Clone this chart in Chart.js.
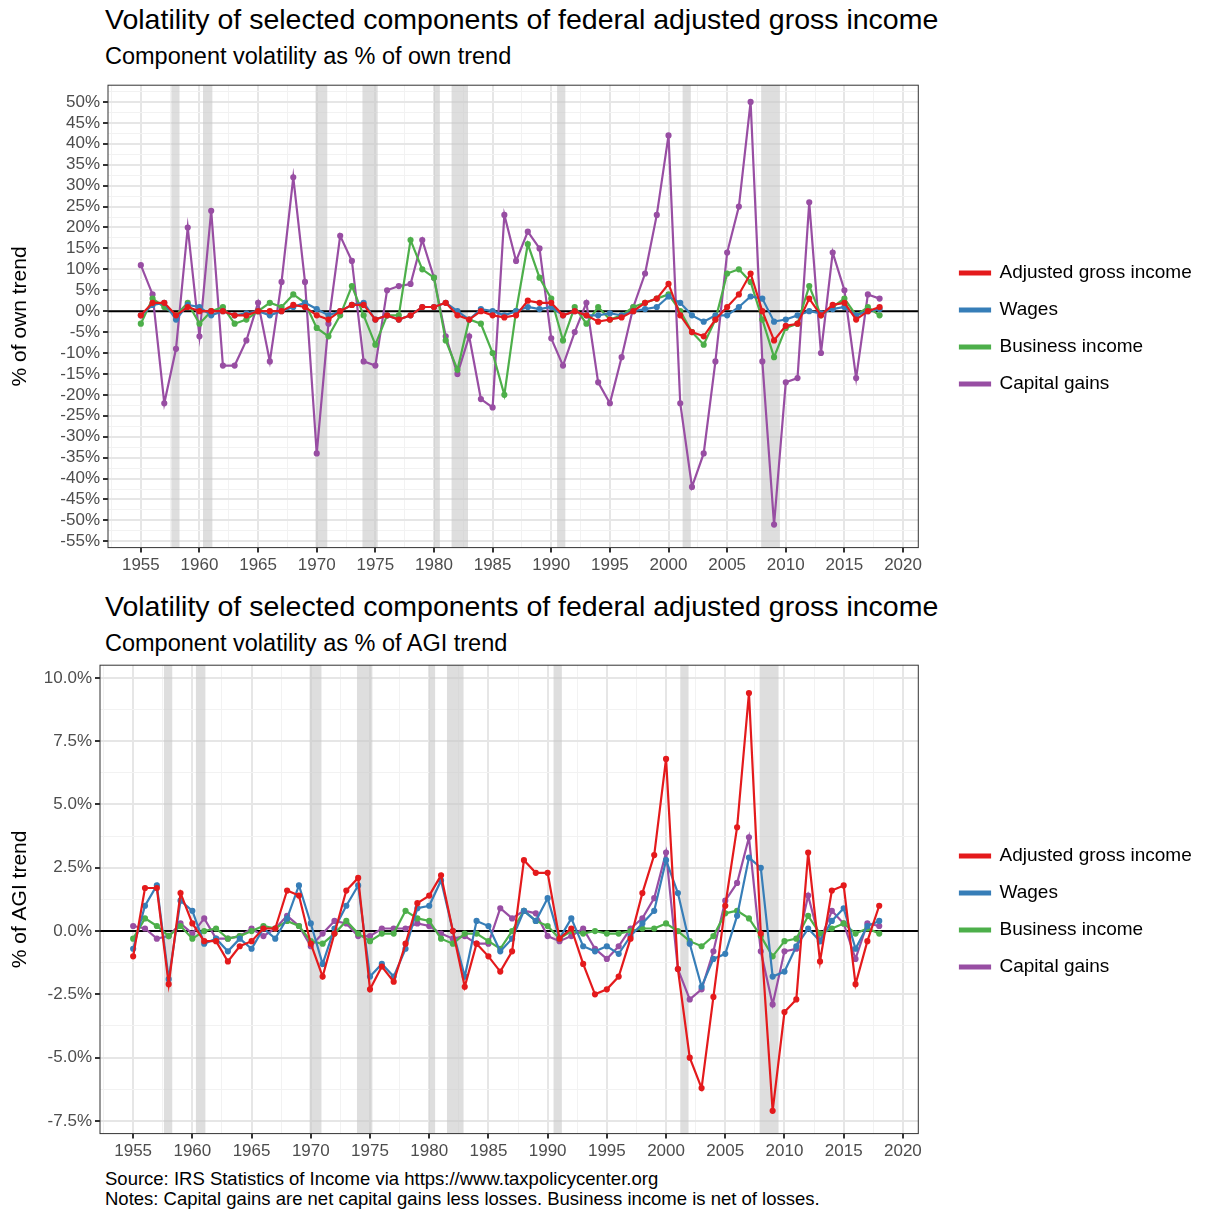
<!DOCTYPE html>
<html>
<head>
<meta charset="utf-8">
<script src="https://cdn.jsdelivr.net/npm/chart.js@4.4.1/dist/chart.umd.min.js"></script>
<style>
  body { margin: 0; background: #fff; font-family: "Liberation Sans", Arial, sans-serif; width: 1208px; height: 1211px; position: relative; overflow: hidden; }
  .t { position: absolute; left: 105px; color: #000; white-space: nowrap; }
  .title { font-size: 28.5px; }
  .sub { font-size: 23.5px; }
  .note { font-size: 18.5px; left: 105px; }
  .box { position: absolute; left: 0; width: 1208px; }
</style>
</head>
<body>
<div class="t title" style="top:3px">Volatility of selected components of federal adjusted gross income</div>
<div class="t sub" style="top:43px">Component volatility as % of own trend</div>
<div class="box" style="top:72px; height:507px"><canvas id="ownChart"></canvas></div>
<div class="t title" style="top:590px">Volatility of selected components of federal adjusted gross income</div>
<div class="t sub" style="top:630px">Component volatility as % of AGI trend</div>
<div class="box" style="top:652px; height:513px"><canvas id="agiChart"></canvas></div>
<div class="t note" style="top:1168px">Source: IRS Statistics of Income via https://www.taxpolicycenter.org</div>
<div class="t note" style="top:1188px">Notes: Capital gains are net capital gains less losses. Business income is net of losses.</div>
<script>
'use strict';

let years = [];
for (let y = 1955; y <= 2018; y++) years.push(y);

let seriesNames = ['Adjusted gross income', 'Wages', 'Business income', 'Capital gains'];
let seriesColors = ['#e41a1c', '#377eb8', '#4daf4a', '#984ea3'];

// % of own trend
let agiOwn = [-1, 2, 2, -1, 1, 0, 0, 0, -1, -1, 0, 0, 0, 1.5, 1, -1, -2, 0, 1.5, 1.5, -2, -1, -2, -1, 1, 1, 2, -1, -2, 0, -1, -1.5, -1, 2.5, 2, 2, -1, 0, -1, -2.5, -2, -1.5, 0, 2, 3, 6.5, -1, -5, -6, -2, 1, 4, 9, 0, -7, -3.5, -3, 3, -1, 1.5, 2, -2, 0, 1];
let wagesOwn = [-1, 1.5, 2, -2, 1.5, 1, -1, 0, -1, -0.5, 0, -1, 0, 1, 2, 0.5, -1, 0, 1.5, 2, -2, -1, -2, -1, 1, 1, 2, 0, -2, 0.5, 0, -1, 0, 1, 0.5, 1, -1, 0, -1, -1, -0.5, -1, 0, 0.5, 1, 3.5, 2, -1, -2.5, -1, -1, 1, 3.5, 3, -2.5, -2, -1, 0, -0.5, 0.5, 1, -1, 0, 0.5];
let businessOwn = [-3, 3, 1, -1, 2, -3, 0, 1, -3, -2, 0, 2, 1, 4, 2, -4, -6, -1, 6, -1, -8, -1, -1, 17, 10, 8, -7, -14, -2, -3, -10, -20, 0, 16, 8, 3, -7, 1, -3, 1, -2, -1, 1, 2, 3, 4, 0, -5, -8, -2, 9, 10, 7, -2, -11, -4, -3, 6, -1, 1, 3, -1, 1, -1];
let capGainsOwn = [11, 4, -22, -9, 20, -6, 24, -13, -13, -7, 2, -12, 7, 32, 7, -34, -3, 18, 12, -12, -13, 5, 6, 6.5, 17, 8, -6, -15, -6, -21, -23, 23, 12, 19, 15, -6.5, -13, -5, 2, -17, -22, -11, 1, 9, 23, 42, -22, -42, -34, -12, 14, 25, 50, -12, -51, -17, -16, 26, -10, 14, 5, -16, 4, 3];

// % of AGI trend
let agiAgi = [-1, 1.7, 1.7, -2.1, 1.5, 0.3, -0.4, -0.4, -1.2, -0.6, -0.4, 0.1, 0.1, 1.6, 1.4, -0.5, -1.8, -0.1, 1.6, 2.1, -2.3, -1.4, -2.0, -0.5, 1.1, 1.4, 2.2, 0, -2.2, -0.5, -1.0, -1.6, -0.8, 2.8, 2.3, 2.3, -0.3, 0.1, -1.3, -2.5, -2.3, -1.8, -0.3, 1.5, 3.0, 6.8, -1.5, -5.0, -6.2, -2.6, 1.0, 4.1, 9.4, -0.1, -7.1, -3.2, -2.7, 3.1, -1.2, 1.6, 1.8, -2.1, -0.4, 1.0];
let wagesAgi = [-0.7, 1.0, 1.8, -1.9, 1.2, 0.8, -0.5, -0.3, -0.8, -0.3, -0.7, 0.1, -0.3, 0.5, 1.8, 0.3, -1.3, 0.1, 1.0, 1.8, -1.8, -1.3, -1.8, -0.7, 0.9, 1.0, 2.0, 0, -1.8, 0.4, 0.2, -0.8, -0.3, 0.8, 0.4, 1.3, -0.3, 0.5, -0.6, -0.8, -0.6, -0.9, -0.2, 0.3, 0.8, 2.8, 1.5, -0.5, -2.2, -1.1, -0.9, 0.6, 2.9, 2.5, -1.8, -1.6, -0.6, 0.1, -0.4, 0.4, 0.9, -0.7, 0.2, 0.4];
let businessAgi = [-0.3, 0.5, 0.2, -0.2, 0.2, -0.3, 0, 0.1, -0.3, -0.2, 0, 0.2, 0.1, 0.4, 0.2, -0.4, -0.5, -0.1, 0.4, -0.1, -0.4, -0.1, -0.1, 0.8, 0.5, 0.4, -0.3, -0.5, -0.1, -0.1, -0.4, -0.7, 0, 0.8, 0.4, 0.2, -0.3, 0, -0.1, 0, -0.1, -0.1, 0, 0.1, 0.1, 0.3, 0, -0.4, -0.6, -0.2, 0.7, 0.8, 0.5, -0.2, -1.0, -0.4, -0.3, 0.6, -0.1, 0.1, 0.3, -0.1, 0.1, -0.1];
let capGainsAgi = [0.2, 0.1, -0.3, -0.2, 0.3, -0.1, 0.5, -0.3, -0.3, -0.2, 0.1, -0.2, 0.1, 0.6, 0.2, -0.6, -0.1, 0.4, 0.3, -0.2, -0.2, 0.1, 0.1, 0.1, 0.3, 0.2, -0.1, -0.3, -0.2, -0.5, -0.5, 0.9, 0.5, 0.8, 0.7, -0.2, -0.4, -0.2, 0.1, -0.7, -1.1, -0.6, 0.1, 0.5, 1.3, 3.1, -1.5, -2.7, -2.3, -0.8, 1.2, 1.9, 3.7, -0.8, -2.9, -0.8, -0.7, 1.4, -0.4, 0.8, 0.3, -1.1, 0.3, 0.2];

// recession periods (start, end) in fractional years
let recessionStarts = [1957.6, 1960.3, 1969.9, 1973.9, 1980.0, 1981.5, 1990.5, 2001.2, 2007.9];
let recessionEnds = [1958.3, 1961.1, 1970.9, 1975.2, 1980.5, 1982.9, 1991.2, 2001.9, 2009.5];

let legendPadding = 18;

let recessionPlugin = {
  id: 'recessions',
  beforeDraw(chart) {
    // nudge the legend so its keys start a little further from the panel, as in ggplot
    let lg = chart.legend;
    let dx = 942 - lg.left;
    lg.left += dx;
    lg.right += dx;
  },
  beforeDatasetsDraw(chart) {
    let ctx = chart.ctx;
    let area = chart.chartArea;
    let x = chart.scales.x;
    let y = chart.scales.y;
    ctx.save();
    ctx.fillStyle = 'rgba(200,200,200,0.6)';
    for (let i = 0; i < recessionStarts.length; i++) {
      let x0 = x.getPixelForValue(recessionStarts[i]);
      let x1 = x.getPixelForValue(recessionEnds[i]);
      ctx.fillRect(x0, area.top, x1 - x0, area.bottom - area.top);
    }
    ctx.strokeStyle = '#000';
    ctx.lineWidth = 2;
    let y0 = y.getPixelForValue(0);
    ctx.beginPath();
    ctx.moveTo(area.left, y0);
    ctx.lineTo(area.right, y0);
    ctx.stroke();
    ctx.restore();
  },
  afterDraw(chart) {
    let ctx = chart.ctx;
    let a = chart.chartArea;
    ctx.save();
    ctx.strokeStyle = '#333';
    ctx.lineWidth = 1;
    ctx.strokeRect(a.left, a.top, a.right - a.left, a.bottom - a.top);
    ctx.restore();
  }
};

function isMajor(v, step) {
  return Math.abs(v / step - Math.round(v / step)) < 1e-6;
}

function makeChart(id, values, yMin, yMax, yStep, labelStep, decimals, yTitle, axisWidth) {
  let datasets = [];
  for (let i = 0; i < values.length; i++) {
    datasets.push({
      label: seriesNames[i],
      data: years.map((yr, j) => ({ x: yr, y: values[i][j] })),
      borderColor: seriesColors[i],
      backgroundColor: seriesColors[i],
      borderWidth: 2.2,
      pointRadius: 2,
      pointHoverRadius: 2,
      tension: 0
    });
  }
  return new Chart(document.getElementById(id), {
    type: 'line',
    data: { datasets: datasets },
    plugins: [recessionPlugin],
    options: {
      responsive: true,
      maintainAspectRatio: false,
      animation: false,
      layout: { padding: { left: 4, right: 30, top: 6, bottom: 0 } },
      plugins: {
        tooltip: { enabled: false },
        legend: {
          position: 'right',
          labels: {
            color: '#000',
            font: { family: 'Liberation Sans', size: 19 },
            boxWidth: 30,
            boxHeight: 3,
            padding: legendPadding
          }
        }
      },
      scales: {
        x: {
          type: 'linear',
          min: 1952.2,
          max: 2021.3,
          afterBuildTicks(axis) {
            let t = [];
            for (let v = 1952.5; v <= 2021; v += 2.5) t.push({ value: v });
            axis.ticks = t;
          },
          grid: {
            color: ctx => (ctx.tick && ctx.tick.value % 5 === 0) ? '#e6e6e6' : '#f2f2f2',
            lineWidth: ctx => (ctx.tick && ctx.tick.value % 5 === 0) ? 2 : 1,
            tickColor: ctx => (ctx.tick && ctx.tick.value % 5 === 0) ? '#333' : 'transparent',
            tickLength: 5
          },
          border: { display: false },
          ticks: {
            autoSkip: false,
            maxRotation: 0,
            color: '#4d4d4d',
            font: { family: 'Liberation Sans', size: 17 },
            callback: v => (v % 5 === 0 ? String(v) : '')
          }
        },
        y: {
          min: yMin,
          max: yMax,
          afterBuildTicks(axis) {
            let t = [];
            let start = Math.ceil(yMin / yStep) * yStep;
            for (let v = start; v <= yMax + 1e-9; v += yStep) t.push({ value: Math.round(v * 100) / 100 });
            axis.ticks = t;
          },
          afterFit(axis) { axis.width = axisWidth; },
          title: { display: true, text: yTitle, color: '#000', font: { family: 'Liberation Sans', size: 21 } },
          grid: {
            color: ctx => (ctx.tick && isMajor(ctx.tick.value, labelStep)) ? '#e6e6e6' : '#f2f2f2',
            lineWidth: ctx => (ctx.tick && isMajor(ctx.tick.value, labelStep)) ? 2 : 1,
            tickColor: ctx => (ctx.tick && isMajor(ctx.tick.value, labelStep)) ? '#333' : 'transparent',
            tickLength: 5
          },
          border: { display: false },
          ticks: {
            autoSkip: false,
            color: '#4d4d4d',
            font: { family: 'Liberation Sans', size: 17 },
            callback: v => (isMajor(v, labelStep) ? v.toFixed(decimals) + '%' : '')
          }
        }
      }
    }
  });
}

makeChart('ownChart', [agiOwn, wagesOwn, businessOwn, capGainsOwn], -56.5, 54, 2.5, 5, 0, '% of own trend', 104);
makeChart('agiChart', [agiAgi, wagesAgi, businessAgi, capGainsAgi], -8, 10.5, 1.25, 2.5, 1, '% of AGI trend', 96);
</script>
</body>
</html>
